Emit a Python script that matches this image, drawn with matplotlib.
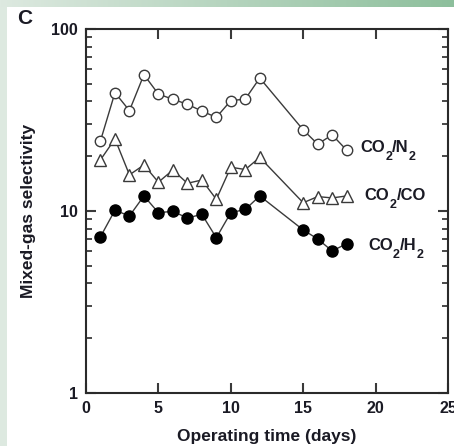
import numpy as np
import matplotlib
matplotlib.use("Agg")
import matplotlib.pyplot as plt
from matplotlib.ticker import LogLocator, FixedLocator, NullFormatter
from matplotlib.colors import LinearSegmentedColormap
from matplotlib.transforms import offset_copy

days = [1, 2, 3, 4, 5, 6, 7, 8, 9, 10, 11, 12, 15, 16, 17, 18]
co2_n2 = [24.3, 44.7, 35.6, 56.1, 43.9, 41.1, 38.6, 35.4, 32.7, 40.4, 41.2, 53.8, 27.9, 23.3, 26.2, 21.6]
co2_co = [19.1, 24.9, 15.8, 17.9, 14.4, 16.8, 14.2, 14.8, 11.6, 17.4, 16.9, 19.7, 11.1, 12.0, 11.8, 12.1]
co2_h2 = [7.22, 10.1, 9.39, 12.1, 9.79, 9.96, 9.15, 9.59, 7.13, 9.79, 10.2, 12.1, 7.87, 7.02, 6.03, 6.61]
# label pieces: (text, is_subscript)
label_n2 = [("CO", False), ("2", True), ("/N", False), ("2", True)]
label_co = [("CO", False), ("2", True), ("/CO", False)]
label_h2 = [("CO", False), ("2", True), ("/H", False), ("2", True)]
x_ticks = [0, 5, 10, 15, 20, 25]
y_ticks = [1, 10, 100]

plt.rcParams['font.family'] = ['Liberation Sans', 'DejaVu Sans']

W, H = 454, 446
fig = plt.figure(figsize=(W / 100, H / 100), dpi=100)
fig.patch.set_facecolor('white')

# decorative green frame
grad = np.linspace(0, 1, 256).reshape(1, -1)
cmap = LinearSegmentedColormap.from_list('g', ['#dde9e0', '#8dbf9c'])
bax = fig.add_axes([0, 1 - 7 / H, 1, 7 / H])
bax.imshow(grad, aspect='auto', cmap=cmap)
bax.axis('off')
lax = fig.add_axes([0, 0, 7 / W, 1 - 7 / H])
lax.set_facecolor('#dde9e0')
lax.set_xticks([]); lax.set_yticks([])
for s in lax.spines.values():
    s.set_visible(False)

txt = '#1a1a24'
line_c = '#3a3a3a'

ax = fig.add_axes([86 / W, 1 - 393 / H, (448 - 86) / W, (393 - 29) / H])
ax.set_yscale('log')
ax.set_xlim(0, 25)
ax.set_ylim(1, 100)

ax.plot(days, co2_n2, '-', color=line_c, lw=1.0, marker='o', ms=7.5,
        mfc='white', mec=line_c, mew=1.0)
ax.plot(days, co2_co, '-', color=line_c, lw=1.0, marker='^', ms=8,
        mfc='white', mec=line_c, mew=1.0)
ax.plot(days, co2_h2, '-', color=line_c, lw=1.0, marker='o', ms=8,
        mfc='black', mec='black', mew=1.0)

renderer = fig.canvas.get_renderer()


def sub_label(x, y, pieces, size=12, sub_size=9, drop=8):
    dx = 0.0
    for s, is_sub in pieces:
        tr = offset_copy(ax.transData, fig=fig, x=dx, y=(-drop if is_sub else 0), units='dots')
        t = ax.text(x, y, s, transform=tr, fontsize=(sub_size if is_sub else size),
                    fontweight='bold', color=txt, va='baseline', ha='left')
        dx += t.get_window_extent(renderer).width


sub_label(18.95, 21.1, label_n2)
sub_label(19.25, 11.5, label_co)
sub_label(19.5, 6.1, label_h2)

ax.xaxis.set_major_locator(FixedLocator(x_ticks))
ax.set_xticklabels([str(t) for t in x_ticks])
ax.yaxis.set_major_locator(FixedLocator(y_ticks))
ax.set_yticklabels([str(t) for t in y_ticks])
ax.yaxis.set_minor_locator(LogLocator(base=10, subs=np.arange(2, 10)))
ax.yaxis.set_minor_formatter(NullFormatter())

ax.tick_params(which='major', direction='in', length=7, width=1.5,
               top=True, right=True, labelsize=11.5, colors=line_c, labelcolor=txt)
ax.tick_params(axis='y', which='major', pad=6)
ax.tick_params(axis='x', which='major', pad=6)
ax.tick_params(which='minor', direction='in', length=4, width=1.3,
               right=True, colors=line_c)
for lbl in ax.get_xticklabels() + ax.get_yticklabels():
    lbl.set_fontweight('bold')
for s in ax.spines.values():
    s.set_linewidth(1.5)
    s.set_color('#2a2a2a')

ax.set_xlabel('Operating time (days)', fontsize=12.5, fontweight='bold', color=txt, labelpad=9)
ax.set_ylabel('Mixed-gas selectivity', fontsize=12.5, fontweight='bold', color=txt, labelpad=11)

fig.text(25 / W, 1 - 19 / H, 'C', fontsize=15, fontweight='bold', color=txt, va='center', ha='center')

fig.savefig('out.png', dpi=100)
